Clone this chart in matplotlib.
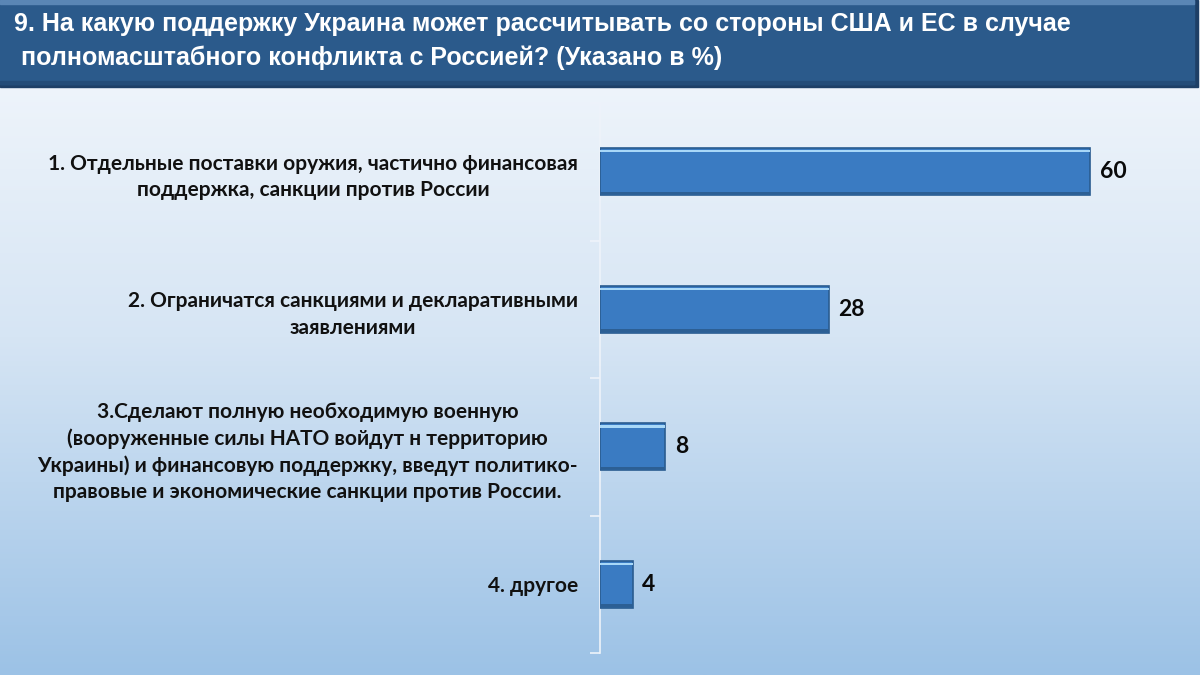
import matplotlib
matplotlib.use("Agg")
import matplotlib.pyplot as plt
import numpy as np
from matplotlib.patches import Rectangle
from matplotlib.colors import LinearSegmentedColormap

categories = [
    "1. Отдельные поставки оружия, частично финансовая\nподдержка, санкции против России",
    "2. Ограничатся санкциями и декларативными\nзаявлениями",
    "3.Сделают полную необходимую военную\n(вооруженные силы НАТО войдут н территорию\nУкраины) и финансовую поддержку, введут политико-\nправовые и экономические санкции против России.",
    "4. другое",
]
values = [60, 28, 8, 4]
title_lines = [
    "9. На какую поддержку Украина может рассчитывать со стороны США и ЕС в случае",
    " полномасштабного конфликта с Россией? (Указано в %)",
]

W, H = 1200, 675
fig = plt.figure(figsize=(12, 6.75), dpi=100)

# background gradient
bg = fig.add_axes([0, 0, 1, 1], zorder=0)
cmap = LinearSegmentedColormap.from_list("bg", ["#f6f9fd", "#d6e5f4", "#9cc2e6"])
grad = np.linspace(0, 1, 256).reshape(-1, 1)
bg.imshow(grad, aspect="auto", cmap=cmap, extent=[0, 1, 0, 1], origin="upper")
bg.set_xlim(0, 1)
bg.set_ylim(0, 1)
bg.axis("off")

# title banner
def px(x, y, w, h):
    return (x / W, 1 - (y + h) / H), w / W, h / H

for (x, y, w, h, c) in [
    (0, 0, 1198, 87, "#1e3f66"),
    (0, 0, 1194, 84, "#2b5a8b"),
    (0, 0, 1194, 4, "#5a86b5"),
    (0, 81, 1194, 3, "#244c78"),
]:
    xy, ww, hh = px(x, y, w, h)
    bg.add_patch(Rectangle(xy, ww, hh, color=c, transform=fig.transFigure, zorder=2))

title_font = ["Liberation Sans", "DejaVu Sans"]
fig.text(14 / W, 1 - 31 / H, title_lines[0], color="white", fontsize=18,
         family=title_font, weight="bold", zorder=5)
fig.text(14 / W, 1 - 65 / H, title_lines[1], color="white", fontsize=18,
         family=title_font, weight="bold", zorder=5)

# chart
ax = fig.add_axes([600 / W, 22 / H, 600 / W, 550 / H], zorder=3)
ax.patch.set_alpha(0)
y = np.arange(len(values))
bar_h = 0.34
ax.barh(y, values, height=bar_h, color="#3a7bc2", edgecolor="#2a5c90", linewidth=1.2, zorder=3)
ax.barh(y - bar_h / 2 + 0.022, values, height=0.016, color="#a8d8f8", linewidth=0, zorder=4)
ax.barh(y + bar_h / 2 - 0.015, values, height=0.02, color="#2c5f94", linewidth=0, zorder=4)

ax.set_xlim(0, 73.4)
ax.set_ylim(3.5, -0.5)

for spine in ["top", "right", "bottom"]:
    ax.spines[spine].set_visible(False)
ax.spines["left"].set_color("#eef3fa")
ax.spines["left"].set_linewidth(1.2)
ax.set_xticks([])

ax.set_yticks(y)
ax.set_yticklabels(categories, fontsize=15, family=["Lato", "DejaVu Sans"], weight="bold",
                   color="#111111", linespacing=1.4)
for lbl in ax.get_yticklabels():
    lbl.set_multialignment("center")
ax.tick_params(axis="y", which="major", length=0, pad=16)
ax.set_yticks(np.arange(-0.5, len(values), 1), minor=True)
ax.tick_params(axis="y", which="minor", length=7, width=1.2, color="#eef3fa")

for yi, v in zip(y, values):
    ax.annotate(str(v), (v, yi), xytext=(7, 0), textcoords="offset points",
                va="center", ha="left", fontsize=16.5, weight="bold",
                family=["Lato", "DejaVu Sans"], color="#0a0a0a")

fig.savefig("out.png", dpi=100)
